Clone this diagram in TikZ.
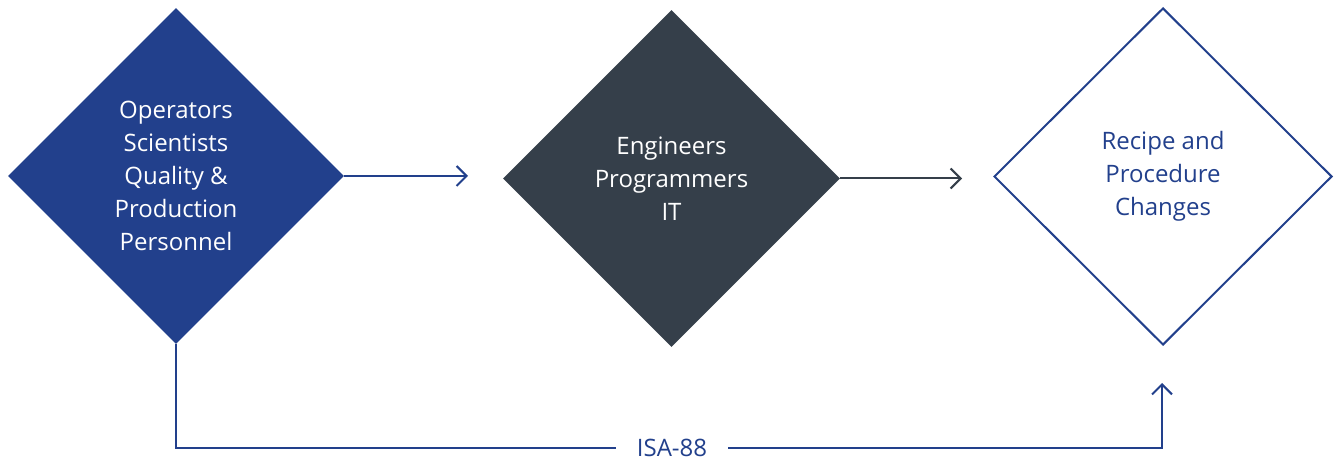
\documentclass[tikz,border=0pt]{standalone}
\usepackage{fontspec}
\setmainfont{Open Sans}
\usepackage{xcolor}
\usetikzlibrary{shapes.geometric,arrows.meta}
\definecolor{isablue}{HTML}{22408C}
\definecolor{isadark}{HTML}{353F4A}

\begin{document}
\begin{tikzpicture}[x=1pt,y=1pt,
	dia/.style={diamond,inner sep=0pt,align=center,font=\fontsize{24}{33}\selectfont},
	link/.style={line width=2pt,-{Straight Barb[length=10pt,width=20pt,line width=2pt]}}]
	\useasboundingbox (0,0) rectangle (1335,462);
	\node[dia,fill=isablue,text=white,minimum width=336pt,minimum height=336pt] (ops) at (176,286) {Operators\\Scientists\\Quality \&\\Production\\Personnel};
	\node[dia,fill=isadark,text=white,minimum width=337pt,minimum height=337pt] (eng) at (671.5,283.5) {Engineers\\Programmers\\IT};
	\node[dia,draw=isablue,line width=2pt,text=isablue,minimum width=338pt,minimum height=337pt] (recipe) at (1163,285.5) {Recipe and\\Procedure\\Changes};
	
	\coordinate (engin) at (468,286);
	\coordinate (recin) at (962,283.5);
	\coordinate (recbot) at (1162,79);
	\coordinate (opsdown) at (176,14);
	\coordinate (recdown) at (1162,14);
	
	\draw[link,isablue] (ops.east) -- (engin);
	\draw[link,isadark] (eng.east) -- (recin);
	\draw[link,isablue] (ops.south) -- (opsdown) -- (recdown) -- (recbot);
	\node[fill=white,text=isablue,inner xsep=21pt,inner ysep=1pt,font=\fontsize{24}{33}\selectfont] (isa) at (672,14) {ISA-88};
\end{tikzpicture}
\end{document}
